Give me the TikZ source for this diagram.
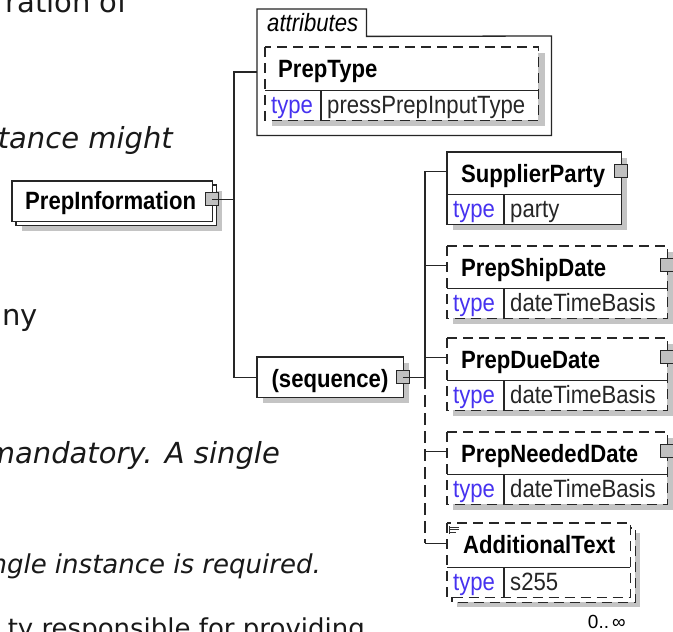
\documentclass[tikz,border=0pt]{standalone}
\usepackage{fontspec}
\setmainfont{DejaVu Sans}
\newfontfamily\arialf[FakeStretch=0.885]{Liberation Sans}
\newfontfamily\arialplain{Liberation Sans}
\definecolor{typeblue}{RGB}{70,50,240}
\definecolor{shadowc}{RGB}{196,196,196}
\definecolor{expc}{RGB}{192,192,192}
\tikzset{
  boxn/.style={rectangle, inner sep=0pt, anchor=north west, fill=white, draw=none},
  edgeln/.style={draw=black!85, line width=1.3pt},
  dsh/.style={dash pattern=on 10pt off 6pt},
  shd/.style={fill=shadowc},
  conn/.style={draw=black!85, line width=1.3pt},
  expbox/.style={rectangle, draw=black!85, line width=1.1pt, fill=expc, minimum size=13pt, inner sep=0pt},
  ttl/.style={anchor=base west, inner sep=0pt, font=\arialf\bfseries\fontsize{25}{27}\selectfont},
  typ/.style={anchor=base west, inner sep=0pt, text=typeblue, font=\arialf\fontsize{25}{27}\selectfont},
  val/.style={anchor=base west, inner sep=0pt, text=black!85, font=\arialf\fontsize{25}{27}\selectfont},
  bgt/.style={anchor=base east, inner sep=0pt, text=black!90, font=\fontsize{29}{32}\selectfont},
  bgs/.style={anchor=base east, inner sep=0pt, text=black!90, font=\fontsize{26}{28}\selectfont},
}
% element box: #1 name, #2 x, #3 top, #4 width, #5 line style, #6 title, #7 type value
\newcommand\xelem[7]{%
  \fill[shd] (#2+6,#3+6) rectangle (#2+#4+6,#3+78);
  \node[boxn, minimum width=#4pt, minimum height=42pt] (#1) at (#2,#3) {};
  \node[boxn, minimum width=#4pt, minimum height=30pt] (#1t) at (#2,#3+42) {};
  \draw[edgeln,#5] (#1.north west) rectangle (#1t.south east);
  \draw[edgeln] (#1.south west) -- (#1.south east);
  \draw[edgeln] ([xshift=57pt]#1t.north west) -- ([xshift=57pt]#1t.south west);
  \node[ttl] (#1l) at (#2+14,#3+30) {#6};
  \node[typ] (#1k) at (#2+6,#3+65) {type};
  \node[val] (#1v) at (#2+63,#3+65) {#7};
}
\begin{document}
\begin{tikzpicture}[x=1pt,y=-1pt]
\useasboundingbox (0,0) rectangle (673,632);
\clip (0,0) rectangle (673,632);
\fill[white] (0,0) rectangle (673,632);

% background page text
\node[bgt] (b1) at (128,12) {ration of};
\node[bgt] (b2) at (173,148) {\itshape tance might};
\node[bgt] (b3) at (38,325) {ny};
\node[bgt] (b4) at (280,463) {\itshape mandatory. A single};
\node[bgs] (b5) at (321,573) {\itshape ngle instance is required.};
\node[bgs] (b6) at (365,637) {ty responsible for providing};

% PrepInformation
\fill[shd] (22,191) rectangle (222,231);
\node[boxn, minimum width=200pt, minimum height=40pt] (piback) at (16,185) {};
\draw[edgeln] (piback.north west) rectangle (piback.south east);
\node[boxn, minimum width=200pt, minimum height=40pt] (pi) at (12,181) {};
\draw[edgeln] (pi.north west) rectangle (pi.south east);
\node[ttl] (pil) at (25,209) {PrepInformation};
\node[expbox] (piexp) at ([yshift=2pt]pi.east) {};

% attributes container
\node[boxn, minimum width=109pt, minimum height=27pt] (tab) at (257,9) {};
\node[boxn, minimum width=294pt, minimum height=99pt] (attr) at (257,36) {};
\draw[edgeln] (attr.south west) -- (tab.north west) -- (tab.north east) -- (tab.south east) -- (attr.north east) -- (attr.south east) -- cycle;
\node[anchor=base west, inner sep=0pt, font=\arialf\itshape\fontsize{25}{27}\selectfont] (tabl) at (267,31) {attributes};
\coordinate (attrin) at (257,72);

% PrepType attribute
\fill[shd] (272,53) rectangle (545,126);
\node[boxn, minimum width=273pt, minimum height=43pt] (pt) at (265,47) {};
\node[boxn, minimum width=273pt, minimum height=30pt] (ptt) at (265,90) {};
\draw[edgeln,dsh] (pt.north west) rectangle (ptt.south east);
\draw[edgeln] (pt.south west) -- (pt.south east);
\draw[edgeln] ([xshift=56pt]ptt.north west) -- ([xshift=56pt]ptt.south west);
\node[ttl] (ptl) at (278,77) {PrepType};
\node[typ] (ptk) at (271,113) {type};
\node[val] (ptv) at (327,113) {pressPrepInputType};

% sequence
\fill[shd] (263,363) rectangle (409,403);
\node[boxn, minimum width=146pt, minimum height=40pt] (seq) at (257,357) {};
\draw[edgeln] (seq.north west) rectangle (seq.south east);
\node[anchor=base, inner sep=0pt, font=\arialf\bfseries\fontsize{25}{27}\selectfont] (seql) at (330,387) {(sequence)};
\node[expbox] (seqexp) at (seq.east) {};

% child elements
\xelem{sp}{447}{152}{174}{solid}{SupplierParty}{party}
\xelem{ps}{447}{246}{220}{dsh}{PrepShipDate}{dateTimeBasis}
\xelem{pd}{447}{338}{220}{dsh}{PrepDueDate}{dateTimeBasis}
\xelem{pn}{447}{432}{220}{dsh}{PrepNeededDate}{dateTimeBasis}

% AdditionalText (repeated, stacked frame)
\fill[shd] (457,533) rectangle (640,607);
\node[boxn, minimum width=183pt, minimum height=74pt] (atback) at (452,528) {};
\draw[edgeln,dsh] (atback.north west) rectangle (atback.south east);
\node[boxn, minimum width=183pt, minimum height=44pt] (at) at (447,523) {};
\node[boxn, minimum width=183pt, minimum height=30pt] (att) at (447,567) {};
\draw[edgeln,dsh] (at.north west) rectangle (att.south east);
\draw[edgeln] (at.south west) -- (at.south east);
\draw[edgeln] ([xshift=57pt]att.north west) -- ([xshift=57pt]att.south west);
\node[ttl] (atl) at (463,553) {AdditionalText};
\node[typ] (atk) at (453,590) {type};
\node[val] (atv) at (510,590) {s255};
\draw[line width=0.8pt, black!80] (449,526) -- (449,534) (449,527) -- (459,527) (449,529.5) -- (459,529.5) (449,532) -- (456,532);
\node[anchor=base east, inner sep=0pt, font=\arialplain\fontsize{19}{21}\selectfont] (occ) at (626,628) {0..\,∞};

% expanders of child elements
\node[expbox] (spexp) at ([yshift=2pt]sp.east) {};
\node[expbox] (psexp) at ([yshift=2pt]ps.east) {};
\node[expbox] (pdexp) at ([yshift=2pt]pd.east) {};
\node[expbox] (pnexp) at ([yshift=2pt]pn.east) {};

% connectors left
\coordinate (lt) at (234,0);
\draw[conn] (attrin) -- (attrin -| lt) -- (seq.west -| lt) -- (seq.west);
\draw[conn] (piexp.center) -- (piexp.center -| lt);

% connectors right
\coordinate (rt) at (425,0);
\coordinate (rtop) at ([yshift=2pt]sp.west -| rt);
\coordinate (rmid) at (seqexp.center -| rt);
\coordinate (rbot) at ([yshift=2pt]at.west -| rt);
\draw[conn] (seqexp.center) -- (rmid);
\draw[conn] ([yshift=2pt]sp.west) -- (rtop) -- (rmid);
\draw[conn] ([yshift=2pt]ps.west) -- ([yshift=2pt]ps.west -| rt);
\draw[conn] ([yshift=2pt]pd.west) -- ([yshift=2pt]pd.west -| rt);
\draw[conn] ([yshift=2pt]pn.west) -- ([yshift=2pt]pn.west -| rt);
\draw[conn,dash pattern=on 12pt off 6pt] (rmid) -- (rbot);
\draw[conn] (rbot) -- ([yshift=2pt]at.west);
\end{tikzpicture}
\end{document}
